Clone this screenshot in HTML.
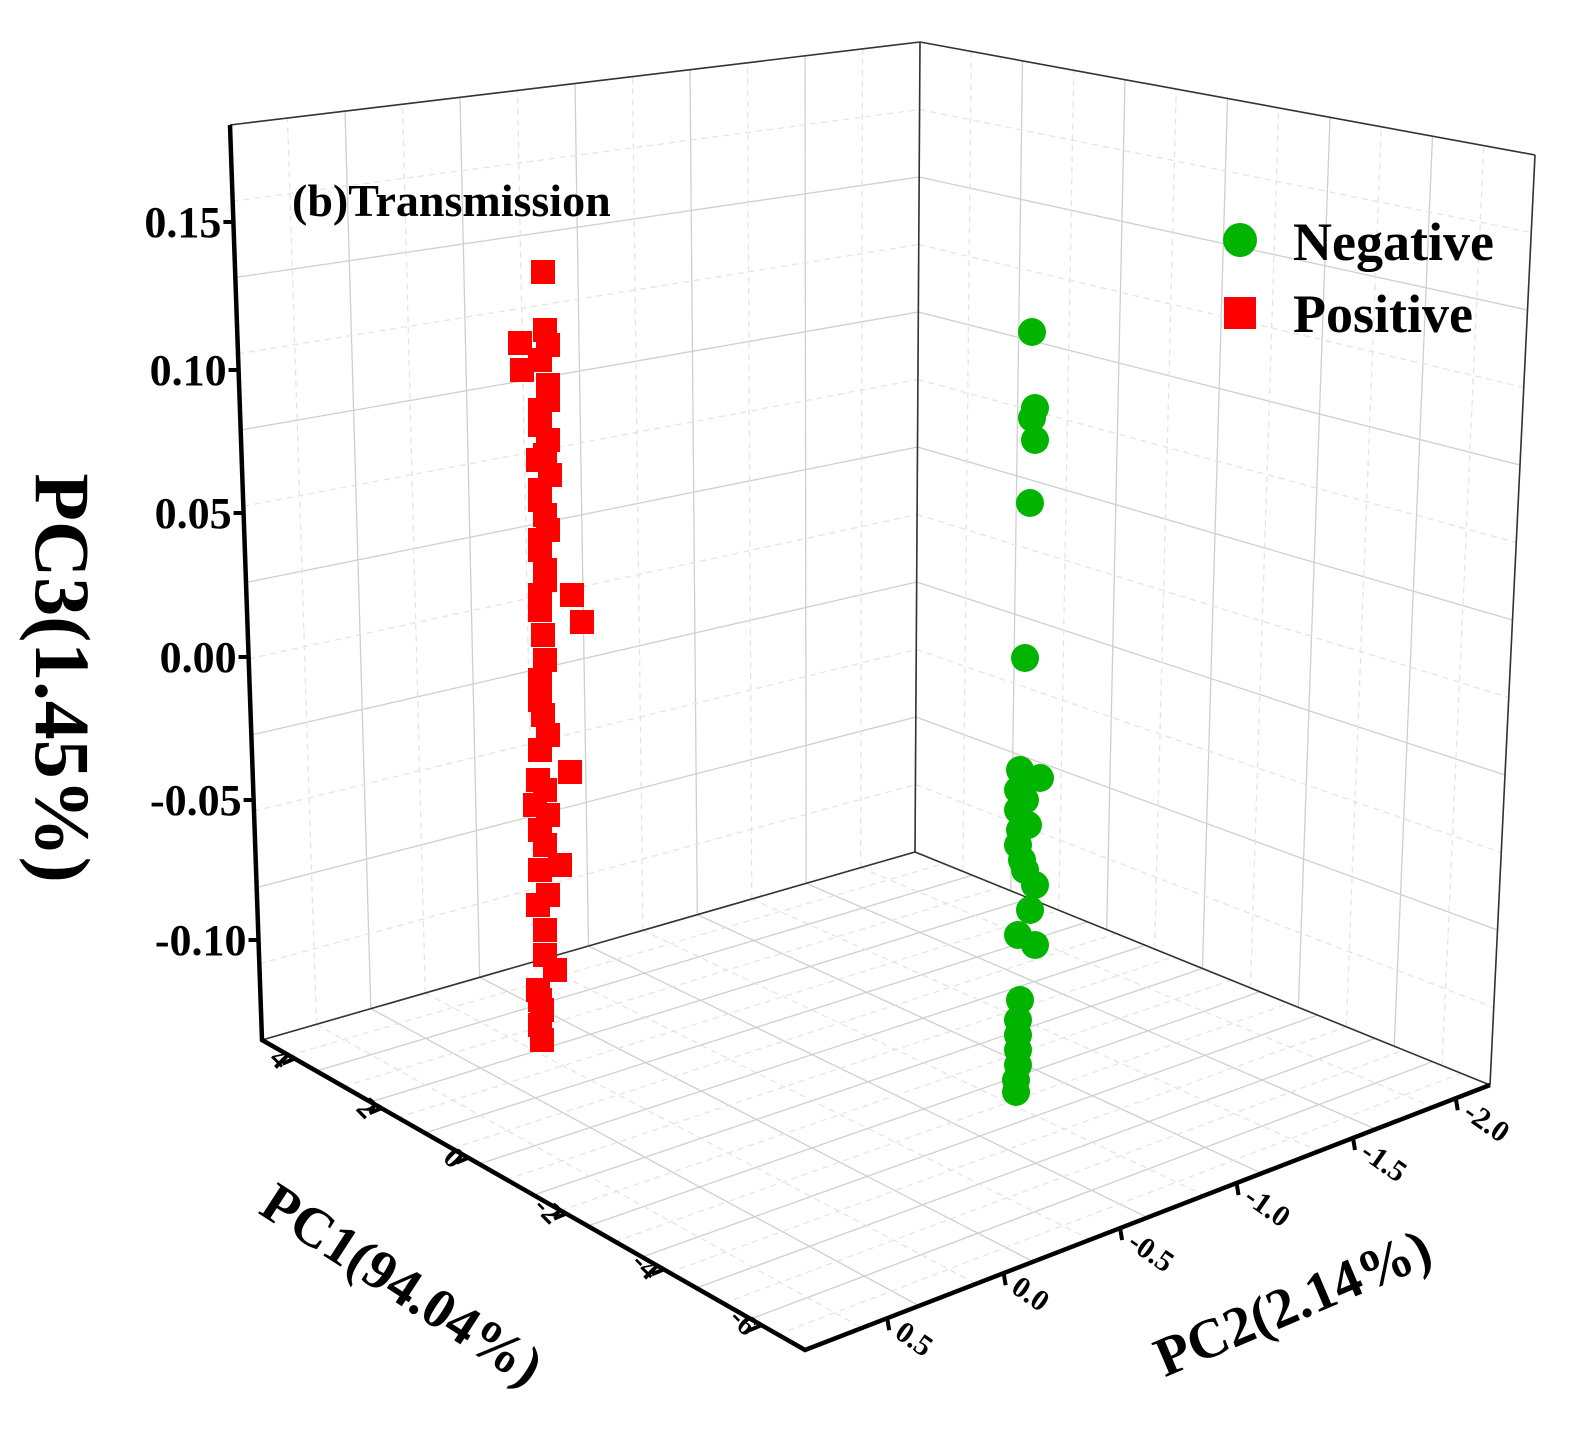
<!DOCTYPE html>
<html><head><meta charset="utf-8"><style>
html,body{margin:0;padding:0;background:#fff;}
svg{display:block;font-family:"Liberation Serif",serif;font-weight:bold;}
</style></head><body>
<svg id="s" width="1595" height="1438" viewBox="0 0 1595 1438" xmlns="http://www.w3.org/2000/svg">
<g id="grid" stroke="#cfcfcf" stroke-width="1.3" fill="none"></g>
<g id="axes" stroke="#000" fill="none"></g>
<g id="data"></g>
<g id="txt" fill="#000"></g>
</svg>
<script>
const NS="http://www.w3.org/2000/svg";
function el(p,t,a,txt){const e=document.createElementNS(NS,t);for(const k in a)e.setAttribute(k,a[k]);if(txt!==undefined)e.textContent=txt;document.getElementById(p).appendChild(e);return e;}
function lerp(a,b,t){return [a[0]+(b[0]-a[0])*t,a[1]+(b[1]-a[1])*t];}
function bil(P,u,v){const a=lerp(P[0],P[1],u),b=lerp(P[3],P[2],u);return lerp(a,b,v);}
function quadGrid(P,nu,nv,dashMinor){
 for(let i=0;i<=nu;i++){const u=i/nu;const a=bil(P,u,0),b=bil(P,u,1);
  el('grid','line',{x1:a[0],y1:a[1],x2:b[0],y2:b[1]});}
 for(let j=0;j<=nv;j++){const v=j/nv;const a=bil(P,0,v),b=bil(P,1,v);
  el('grid','line',{x1:a[0],y1:a[1],x2:b[0],y2:b[1]});}
 if(dashMinor){
 for(let i=0;i<nu;i++){const u=(i+.5)/nu;const a=bil(P,u,0),b=bil(P,u,1);
  el('grid','line',{x1:a[0],y1:a[1],x2:b[0],y2:b[1],'stroke-dasharray':'6 5',stroke:'#e4e4e4'});}
 for(let j=0;j<nv;j++){const v=(j+.5)/nv;const a=bil(P,0,v),b=bil(P,1,v);
  el('grid','line',{x1:a[0],y1:a[1],x2:b[0],y2:b[1],'stroke-dasharray':'6 5',stroke:'#e4e4e4'});}}
}
const BL=[262,1040],TL=[230,125],BT=[920,42],BB=[915,852],RT=[1535,155],RB=[1490,1085],FR=[805,1350];
quadGrid([BL,BB,BT,TL],6,6,true);
quadGrid([BB,RB,RT,BT],6,6,true);
quadGrid([BL,BB,RB,FR],6,10,true);
[[BL,BB],[BB,RB],[BB,BT],[TL,BT],[BT,RT],[RT,RB]].forEach(s=>el('axes','line',{x1:s[0][0],y1:s[0][1],x2:s[1][0],y2:s[1][1],'stroke-width':1.6,stroke:'#333'}));
el('axes','polyline',{points:`${TL} ${BL} ${FR} ${RB}`,'stroke-width':4.5,'stroke-linejoin':'miter'});
const zt=[["0.15",222],["0.10",370],["0.05",513],["0.00",657],["-0.05",800],["-0.10",940]];
zt.forEach(([l,y])=>{const t=(y-125)/(1040-125);const x=230+32*t;
 el('axes','line',{x1:x-10,y1:y,x2:x,y2:y,'stroke-width':4});
 el('txt','text',{x:x-12,y:y+15,'text-anchor':'end','font-size':44},l);});
const p1=[["4",0.06],["2",0.22],["0",0.38],["-2",0.56],["-4",0.74],["-6",0.92]];
p1.forEach(([l,t])=>{const p=lerp(BL,FR,t);
 el('axes','line',{x1:p[0],y1:p[1],x2:p[0]-12,y2:p[1]+5,'stroke-width':4});
 el('txt','text',{x:0,y:0,'text-anchor':'end','font-size':30,transform:`translate(${p[0]-16},${p[1]+12}) rotate(45)`},l);});
const p2=[["0.5",0.12],["0.0",0.29],["-0.5",0.46],["-1.0",0.63],["-1.5",0.8],["-2.0",0.95]];
p2.forEach(([l,t])=>{const p=lerp(FR,RB,t);
 el('axes','line',{x1:p[0],y1:p[1],x2:p[0]+2,y2:p[1]+12,'stroke-width':4});
 el('txt','text',{x:0,y:0,'font-size':30,transform:`translate(${p[0]+6},${p[1]+18}) rotate(35)`},l);});
el('txt','text',{x:0,y:0,'text-anchor':'middle','font-size':78,transform:'translate(36,678) rotate(90)'},"PC3(1.45%)");
el('txt','text',{x:0,y:0,'text-anchor':'middle','font-size':56,transform:'translate(392,1300) rotate(33)'},"PC1(94.04%)");
el('txt','text',{x:0,y:0,'text-anchor':'middle','font-size':56,transform:'translate(1300,1320) rotate(-23)'},"PC2(2.14%)");
el('txt','text',{x:292,y:216,'font-size':46},"(b)Transmission");
el('data','circle',{cx:1240,cy:240,r:17,fill:'#00b400'});
el('data','rect',{x:1224,y:297,width:32,height:32,fill:'#ff0000'});
el('txt','text',{x:1293,y:260,'font-size':54},"Negative");
el('txt','text',{x:1293,y:332,'font-size':54},"Positive");
const red=[[543,272],[520,343],[545,330],[522,370],[548,345],[540,360],[548,385],[540,425],[548,440],[538,460],[550,475],[540,490],[545,515],[540,550],[545,570],[540,595],[572,595],[582,622],[543,635],[540,680],[543,715],[548,735],[540,750],[570,772],[535,805],[548,815],[540,830],[545,845],[560,865],[540,870],[548,895],[538,905],[545,930],[555,970],[538,990],[542,1010],[540,1025],[542,1040],[540,1000],[545,955],[538,780],[545,790],[540,700],[545,660],[540,610],[545,580],[540,540],[548,530],[540,500],[545,455],[540,410],[548,400]];
red.forEach(([x,y])=>el('data','rect',{x:x-12,y:y-12,width:24,height:24,fill:'#ff0000'}));
const gr=[[1032,332],[1035,408],[1032,418],[1035,440],[1030,503],[1025,658],[1020,770],[1040,778],[1018,790],[1025,800],[1018,810],[1028,825],[1018,845],[1022,860],[1035,885],[1030,910],[1018,935],[1035,945],[1020,1000],[1018,1020],[1018,1035],[1018,1050],[1018,1065],[1016,1080],[1016,1092],[1025,870],[1022,795],[1020,830]];
gr.forEach(([x,y])=>el('data','circle',{cx:x,cy:y,r:14,fill:'#00b400'}));
</script>
</body></html>
